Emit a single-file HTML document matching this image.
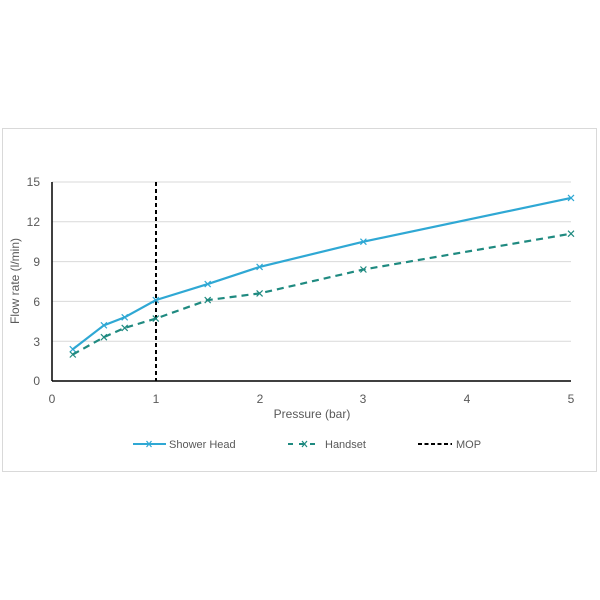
<!DOCTYPE html>
<html><head><style>body{margin:0;background:#fff}svg{display:block}</style></head><body>
<svg width="600" height="600" xmlns="http://www.w3.org/2000/svg" font-family="Liberation Sans, sans-serif">
<rect x="2.5" y="128.5" width="594" height="343" fill="#fff" stroke="#d9d9d9"/>
<g stroke="#d9d9d9" stroke-width="1">
<line x1="52" y1="182" x2="571" y2="182"/><line x1="52" y1="221.8" x2="571" y2="221.8"/>
<line x1="52" y1="261.6" x2="571" y2="261.6"/><line x1="52" y1="301.4" x2="571" y2="301.4"/>
<line x1="52" y1="341.2" x2="571" y2="341.2"/></g>
<line x1="52" y1="182" x2="52" y2="381" stroke="#000" stroke-width="1.5"/>
<line x1="52" y1="381" x2="571" y2="381" stroke="#000" stroke-width="1.5"/>
<g fill="#595959" font-size="12" text-anchor="end">
<text x="40" y="186">15</text><text x="40" y="226">12</text><text x="40" y="266">9</text>
<text x="40" y="306">6</text><text x="40" y="346">3</text><text x="40" y="385">0</text></g>
<g fill="#595959" font-size="12" text-anchor="middle">
<text x="52" y="403">0</text><text x="156" y="403">1</text><text x="260" y="403">2</text>
<text x="363" y="403">3</text><text x="467" y="403">4</text><text x="571" y="403">5</text>
<text x="312" y="418">Pressure (bar)</text>
<text transform="translate(19,281) rotate(-90)">Flow rate (l/min)</text></g>
<line x1="156" y1="182" x2="156" y2="381" stroke="#000" stroke-width="2" stroke-dasharray="4,3"/>
<polyline fill="none" stroke="#2fa8d4" stroke-width="2.2" points="72.8,349.2 103.9,325.3 124.7,317.3 155.8,300.1 207.7,284.1 259.6,266.9 363.4,241.7 571,197.9"/>
<polyline fill="none" stroke="#1f8a80" stroke-width="2.2" stroke-dasharray="7,5" points="72.8,354.5 103.9,337.2 124.7,327.9 155.8,318.6 207.7,300.1 259.6,293.4 363.4,269.5 571,233.7"/>
<g stroke="#2fa8d4" stroke-width="1.2">
<path d="M69.8,346.2l6,6m0,-6l-6,6M100.9,322.3l6,6m0,-6l-6,6M121.7,314.3l6,6m0,-6l-6,6M152.8,297.1l6,6m0,-6l-6,6M204.7,281.1l6,6m0,-6l-6,6M256.6,263.9l6,6m0,-6l-6,6M360.4,238.7l6,6m0,-6l-6,6M568,194.9l6,6m0,-6l-6,6"/></g>
<g stroke="#1f8a80" stroke-width="1.2">
<path d="M69.8,351.5l6,6m0,-6l-6,6M100.9,334.2l6,6m0,-6l-6,6M121.7,324.9l6,6m0,-6l-6,6M152.8,315.6l6,6m0,-6l-6,6M204.7,297.1l6,6m0,-6l-6,6M256.6,290.4l6,6m0,-6l-6,6M360.4,266.5l6,6m0,-6l-6,6M568,230.7l6,6m0,-6l-6,6"/></g>
<line x1="133" y1="444" x2="166" y2="444" stroke="#2fa8d4" stroke-width="2"/>
<path d="M146.5,441l5,6m0,-6l-5,6" stroke="#2fa8d4" stroke-width="1.2"/>
<text x="169" y="448" font-size="11" fill="#595959">Shower Head</text>
<line x1="288" y1="444" x2="321" y2="444" stroke="#1f8a80" stroke-width="2" stroke-dasharray="5,6"/>
<path d="M302,441l5,6m0,-6l-5,6" stroke="#1f8a80" stroke-width="1.2"/>
<text x="325" y="448" font-size="11" fill="#595959">Handset</text>
<line x1="418" y1="444" x2="452" y2="444" stroke="#000" stroke-width="2" stroke-dasharray="4,2.5"/>
<text x="456" y="448" font-size="11" fill="#595959">MOP</text>
</svg>
</body></html>
